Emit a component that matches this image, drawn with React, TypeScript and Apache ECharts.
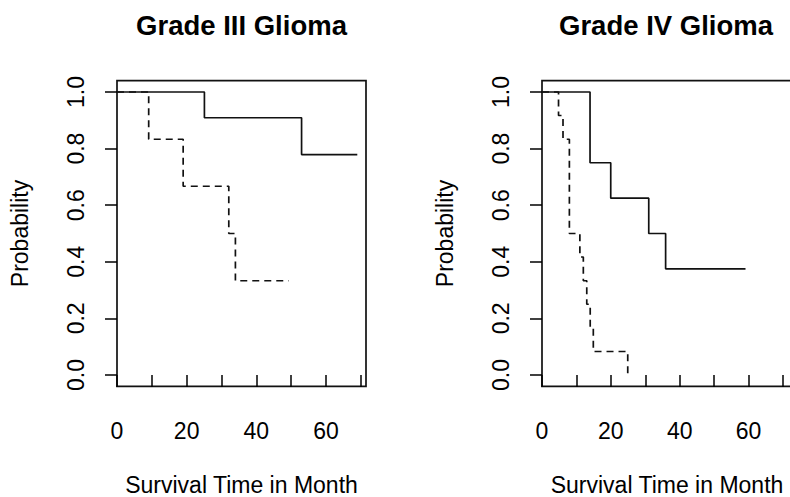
import React, { useEffect, useRef } from "react";
import * as echarts from "echarts";

// Grade III Glioma
const g3SolidTime = [0, 25.1, 53, 69];
const g3SolidSurv = [1, 0.909, 0.779, 0.779];
const g3DashTime = [0, 9.1, 19, 32.1, 34, 49.3];
const g3DashSurv = [1, 0.833, 0.667, 0.5, 0.333, 0.333];

// Grade IV Glioma
const g4SolidTime = [0, 13.95, 19.96, 31, 35.9, 59.1];
const g4SolidSurv = [1, 0.75, 0.625, 0.5, 0.375, 0.375];
const g4DashTime = [0, 4.8, 6.1, 7.95, 11, 12, 13, 14, 14.9, 24.9];
const g4DashSurv = [1, 0.917, 0.833, 0.5, 0.417, 0.333, 0.25, 0.167, 0.083, 0];

const xTicks = [0, 10, 20, 30, 40, 50, 60, 70];
const xLabels = [0, 20, 40, 60];
const yTicks = [0, 0.2, 0.4, 0.6, 0.8, 1.0];

const titles = ["Grade III Glioma", "Grade IV Glioma"];
const xName = "Survival Time in Month";
const yName = "Probability";

const FONT = "Liberation Sans";

export default function App() {
  const ref = useRef<HTMLDivElement>(null);
  useEffect(() => {
    document.body.style.margin = "0";
    const chart = echarts.init(ref.current!, null, { renderer: "svg" });
    const zip = (t: number[], s: number[]) => t.map((v, i) => [v, s[i]]);
    const grids = [
      { left: 117, top: 80.7, width: 249, height: 305.6, xmax: 71.5, titleX: 241.5 },
      { left: 542, top: 80.7, width: 250, height: 305.6, xmax: 72.6, titleX: 666 },
    ];
    const mkX = (i: number) => ({
      type: "value",
      gridIndex: i,
      min: 0,
      max: grids[i].xmax,
      name: xName,
      nameLocation: "middle",
      nameGap: 87,
      nameTextStyle: { fontSize: 23, fontFamily: FONT, color: "#000" },
      axisLine: { show: false },
      axisTick: { show: true, length: 12, lineStyle: { color: "#000", width: 1.5 }, customValues: xTicks },
      axisLabel: { customValues: xLabels, margin: 33, fontSize: 23, fontFamily: FONT, color: "#000" },
      splitLine: { show: false },
    });
    const mkY = (i: number) => ({
      type: "value",
      gridIndex: i,
      min: -0.04,
      max: 1.04,
      name: yName,
      nameLocation: "middle",
      nameGap: 86,
      nameTextStyle: { fontSize: 23, fontFamily: FONT, color: "#000" },
      axisLine: { show: false },
      axisTick: { show: true, length: 12, lineStyle: { color: "#000", width: 1.5 }, customValues: yTicks },
      axisLabel: {
        customValues: yTicks,
        rotate: 90,
        margin: 30,
        fontSize: 23,
        fontFamily: FONT,
        color: "#000",
        formatter: (v: number) => v.toFixed(1),
      },
      splitLine: { show: false },
    });
    const line = (t: number[], s: number[], i: number, dashed: boolean) => ({
      type: "line",
      xAxisIndex: i,
      yAxisIndex: i,
      step: "end",
      symbol: "none",
      data: zip(t, s),
      lineStyle: { color: "#111", width: 1.7, type: dashed ? [7, 5] : "solid" },
      silent: true,
    });
    chart.setOption({
      animation: false,
      backgroundColor: "#fff",
      title: titles.map((t, i) => ({
        text: t,
        left: grids[i].titleX,
        top: 11,
        padding: 0,
        textAlign: "center",
        textStyle: { fontSize: 27.5, fontWeight: "bold", fontFamily: FONT, color: "#000" },
      })),
      grid: grids.map((g) => ({
        left: g.left,
        top: g.top,
        width: g.width,
        height: g.height,
        show: true,
        borderColor: "#111",
        borderWidth: 1.7,
        backgroundColor: "transparent",
        containLabel: false,
        outerBoundsMode: "none",
      })),
      xAxis: [mkX(0), mkX(1)],
      yAxis: [mkY(0), mkY(1)],
      series: [
        line(g3SolidTime, g3SolidSurv, 0, false),
        line(g3DashTime, g3DashSurv, 0, true),
        line(g4SolidTime, g4SolidSurv, 1, false),
        line(g4DashTime, g4DashSurv, 1, true),
      ],
    });
    return () => chart.dispose();
  }, []);
  return <div ref={ref} style={{ width: 790, height: 497 }} />;
}
